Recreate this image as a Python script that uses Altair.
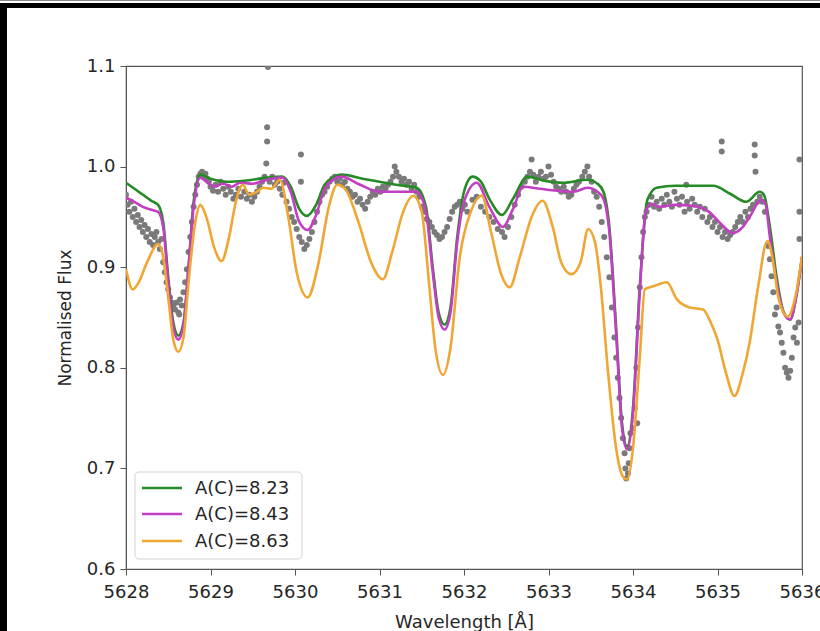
import altair as alt
import pandas as pd

# ---------------- data ----------------
series_names = ["A(C)=8.23", "A(C)=8.43", "A(C)=8.63"]
series_colors = ["#268a26", "#c23ec2", "#f0a633"]

green_w = [5628.00, 5628.10, 5628.20, 5628.30, 5628.38, 5628.44, 5628.50, 5628.56, 5628.62, 5628.68,
           5628.74, 5628.80, 5628.88, 5629.00, 5629.20, 5629.40, 5629.67, 5629.85, 5629.95, 5630.05,
           5630.14, 5630.25, 5630.35, 5630.45, 5630.55, 5630.80, 5631.00, 5631.20, 5631.44, 5631.55,
           5631.63, 5631.70, 5631.77, 5631.84, 5631.92, 5632.00, 5632.10, 5632.20, 5632.30, 5632.45,
           5632.58, 5632.75, 5632.95, 5633.17, 5633.46, 5633.58, 5633.65, 5633.72, 5633.80, 5633.87,
           5633.93, 5634.00, 5634.08, 5634.17, 5634.28, 5634.50, 5634.75, 5634.95, 5635.15, 5635.34,
           5635.50, 5635.55, 5635.62, 5635.70, 5635.78, 5635.86, 5635.93, 5636.00]
green_f = [0.984, 0.978, 0.972, 0.966, 0.962, 0.945, 0.890, 0.845, 0.832, 0.845,
           0.900, 0.965, 0.992, 0.988, 0.985, 0.986, 0.989, 0.990, 0.980, 0.958,
           0.951, 0.962, 0.982, 0.989, 0.992, 0.988, 0.985, 0.982, 0.979, 0.960,
           0.900, 0.855, 0.843, 0.860, 0.930, 0.975, 0.990, 0.985, 0.968, 0.952,
           0.968, 0.990, 0.986, 0.984, 0.987, 0.983, 0.975, 0.940, 0.840, 0.745,
           0.722, 0.760, 0.880, 0.967, 0.979, 0.981, 0.981, 0.981, 0.973, 0.965,
           0.975, 0.972, 0.940, 0.890, 0.856, 0.848, 0.870, 0.910]

magenta_w = [5628.00, 5628.10, 5628.20, 5628.30, 5628.38, 5628.44, 5628.50, 5628.56, 5628.62, 5628.68,
             5628.74, 5628.80, 5628.88, 5628.95, 5629.05, 5629.15, 5629.25, 5629.35, 5629.50, 5629.67,
             5629.85, 5629.95, 5630.05, 5630.15, 5630.25, 5630.35, 5630.45, 5630.55, 5630.77, 5631.00,
             5631.20, 5631.44, 5631.55, 5631.63, 5631.70, 5631.77, 5631.84, 5631.92, 5632.00, 5632.15,
             5632.30, 5632.46, 5632.58, 5632.70, 5632.90, 5633.10, 5633.30, 5633.46, 5633.58, 5633.65,
             5633.72, 5633.80, 5633.87, 5633.93, 5634.00, 5634.08, 5634.15, 5634.22, 5634.32, 5634.50,
             5634.70, 5634.90, 5635.03, 5635.18, 5635.30, 5635.38, 5635.52, 5635.57, 5635.62, 5635.70,
             5635.78, 5635.86, 5635.93, 5636.00]
magenta_f = [0.969, 0.965, 0.960, 0.957, 0.955, 0.940, 0.885, 0.840, 0.828, 0.842,
             0.900, 0.960, 0.989, 0.985, 0.980, 0.983, 0.980, 0.984, 0.983, 0.987,
             0.989, 0.975, 0.945, 0.937, 0.952, 0.978, 0.987, 0.990, 0.982, 0.975,
             0.975, 0.975, 0.955, 0.895, 0.850, 0.838, 0.855, 0.925, 0.965, 0.984,
             0.960, 0.940, 0.958, 0.980, 0.978, 0.976, 0.975, 0.979, 0.975, 0.968,
             0.935, 0.835, 0.740, 0.719, 0.755, 0.875, 0.955, 0.963, 0.960, 0.962,
             0.961, 0.955, 0.944, 0.934, 0.940, 0.950, 0.967, 0.962, 0.930, 0.885,
             0.855, 0.848, 0.870, 0.910]

orange_w = [5628.00, 5628.08, 5628.15, 5628.25, 5628.38, 5628.44, 5628.50, 5628.56, 5628.62, 5628.68,
            5628.74, 5628.82, 5628.88, 5628.95, 5629.05, 5629.13, 5629.22, 5629.30, 5629.38, 5629.46,
            5629.55, 5629.62, 5629.72, 5629.82, 5629.92, 5630.02, 5630.15, 5630.28, 5630.40, 5630.50,
            5630.60, 5630.75, 5630.90, 5631.04, 5631.15, 5631.28, 5631.40, 5631.50, 5631.58, 5631.66,
            5631.75, 5631.84, 5631.95, 5632.08, 5632.21, 5632.32, 5632.44, 5632.54, 5632.66, 5632.80,
            5632.93, 5633.05, 5633.15, 5633.27, 5633.38, 5633.47, 5633.55, 5633.62, 5633.70, 5633.80,
            5633.88, 5633.93, 5634.00, 5634.08, 5634.14, 5634.24, 5634.40, 5634.52, 5634.67, 5634.83,
            5634.92, 5635.00, 5635.10, 5635.20, 5635.30, 5635.38, 5635.48, 5635.59, 5635.65, 5635.72,
            5635.83, 5635.92, 5636.00]
orange_f = [0.898, 0.878, 0.885, 0.905, 0.923, 0.910, 0.870, 0.828, 0.816, 0.830,
            0.885, 0.945, 0.962, 0.950, 0.918, 0.906, 0.930, 0.965, 0.982, 0.972,
            0.975, 0.979, 0.978, 0.987, 0.950, 0.895, 0.870, 0.905, 0.960, 0.982,
            0.977, 0.945, 0.905, 0.888, 0.915, 0.955, 0.971, 0.955, 0.890, 0.820,
            0.793, 0.820, 0.910, 0.955, 0.971, 0.935, 0.893, 0.880, 0.910, 0.950,
            0.966, 0.940, 0.905, 0.893, 0.905, 0.938, 0.925, 0.880, 0.800, 0.720,
            0.692, 0.689, 0.720, 0.810, 0.878, 0.881, 0.885, 0.868, 0.860, 0.858,
            0.845, 0.828, 0.795, 0.772, 0.795, 0.825, 0.880, 0.926, 0.910, 0.870,
            0.851, 0.870, 0.911]

obs_w = [5628.00, 5628.02, 5628.04, 5628.06, 5628.08, 5628.10, 5628.12, 5628.14, 5628.16, 5628.18,
         5628.20, 5628.22, 5628.24, 5628.26, 5628.28, 5628.30, 5628.32, 5628.34, 5628.36, 5628.38,
         5628.40, 5628.42, 5628.44, 5628.46, 5628.48, 5628.50, 5628.52, 5628.54, 5628.56, 5628.58,
         5628.60, 5628.62, 5628.63, 5628.64, 5628.66, 5628.68, 5628.70, 5628.72, 5628.74, 5628.76,
         5628.78, 5628.80, 5628.82, 5628.84, 5628.86, 5628.88, 5628.90, 5628.92, 5628.94, 5628.96,
         5628.98, 5629.00, 5629.03, 5629.06, 5629.09, 5629.12, 5629.15, 5629.18, 5629.21, 5629.24,
         5629.27, 5629.30, 5629.33, 5629.36, 5629.40, 5629.43, 5629.46, 5629.49, 5629.52, 5629.55,
         5629.58, 5629.61, 5629.64, 5629.66, 5629.67, 5629.67, 5629.68, 5629.70, 5629.73, 5629.76,
         5629.79, 5629.82, 5629.85, 5629.87, 5629.90, 5629.93, 5629.96, 5629.99, 5630.02, 5630.05,
         5630.07, 5630.07, 5630.08, 5630.11, 5630.14, 5630.17, 5630.20, 5630.23, 5630.26, 5630.29,
         5630.32, 5630.35, 5630.38, 5630.41, 5630.44, 5630.47, 5630.50, 5630.53, 5630.56, 5630.59,
         5630.62, 5630.65, 5630.68, 5630.71, 5630.74, 5630.77, 5630.80, 5630.83, 5630.86, 5630.89,
         5630.92, 5630.95, 5630.98, 5631.01, 5631.04, 5631.07, 5631.10, 5631.13, 5631.16, 5631.18,
         5631.20, 5631.23, 5631.26, 5631.29, 5631.32, 5631.35, 5631.38, 5631.41, 5631.44, 5631.47,
         5631.50, 5631.53, 5631.56, 5631.59, 5631.62, 5631.65, 5631.68, 5631.71, 5631.74, 5631.77,
         5631.80, 5631.83, 5631.86, 5631.89, 5631.92, 5631.95, 5631.98, 5632.01, 5632.04, 5632.10,
         5632.15, 5632.20, 5632.25, 5632.30, 5632.35, 5632.40, 5632.45, 5632.48, 5632.52, 5632.56,
         5632.60, 5632.64, 5632.68, 5632.72, 5632.75, 5632.78, 5632.80, 5632.82, 5632.85, 5632.88,
         5632.91, 5632.94, 5632.97, 5633.00, 5633.03, 5633.06, 5633.09, 5633.12, 5633.15, 5633.18,
         5633.21, 5633.24, 5633.27, 5633.30, 5633.33, 5633.36, 5633.40, 5633.43, 5633.46, 5633.48,
         5633.51, 5633.54, 5633.57, 5633.60, 5633.63, 5633.66, 5633.69, 5633.72, 5633.75, 5633.78,
         5633.80, 5633.82, 5633.84, 5633.86, 5633.88, 5633.90, 5633.91, 5633.92, 5633.94, 5633.95,
         5633.96, 5633.97, 5634.00, 5634.02, 5634.04, 5634.05, 5634.06, 5634.08, 5634.10, 5634.12,
         5634.14, 5634.16, 5634.19, 5634.22, 5634.25, 5634.28, 5634.31, 5634.34, 5634.37, 5634.40,
         5634.43, 5634.46, 5634.49, 5634.52, 5634.55, 5634.58, 5634.61, 5634.63, 5634.64, 5634.67,
         5634.70, 5634.73, 5634.76, 5634.79, 5634.82, 5634.85, 5634.88, 5634.91, 5634.94, 5634.97,
         5635.00, 5635.03, 5635.05, 5635.05, 5635.06, 5635.09, 5635.12, 5635.15, 5635.18, 5635.21,
         5635.24, 5635.27, 5635.30, 5635.33, 5635.36, 5635.39, 5635.42, 5635.44, 5635.44, 5635.45,
         5635.47, 5635.50, 5635.53, 5635.56, 5635.60, 5635.62, 5635.64, 5635.66, 5635.68, 5635.70,
         5635.72, 5635.74, 5635.76, 5635.78, 5635.80, 5635.82, 5635.84, 5635.86, 5635.88, 5635.90,
         5635.92, 5635.94, 5635.96, 5635.97, 5635.97, 5635.97]
obs_f = [0.972, 0.962, 0.955, 0.965, 0.950, 0.958, 0.945, 0.952, 0.940, 0.947,
         0.935, 0.942, 0.930, 0.938, 0.925, 0.933, 0.922, 0.930, 0.935, 0.925,
         0.918, 0.928, 0.905, 0.895, 0.885, 0.878, 0.870, 0.865, 0.862, 0.858,
         0.865, 0.855, 0.853, 0.868, 0.862, 0.875, 0.885, 0.898, 0.915, 0.930,
         0.945, 0.960, 0.972, 0.982, 0.990, 0.993, 0.995, 0.990, 0.993, 0.988,
         0.985, 0.980, 0.976, 0.982, 0.975, 0.985, 0.978, 0.972, 0.980, 0.975,
         0.968, 0.972, 0.978, 0.970, 0.975, 0.968, 0.972, 0.965, 0.970, 0.975,
         0.980, 0.985, 0.990, 1.003, 1.025, 1.039, 1.099, 0.985, 0.990, 0.982,
         0.985, 0.978, 0.972, 0.984, 0.965, 0.958, 0.950, 0.945, 0.938, 0.930,
         1.012, 0.985, 0.925, 0.918, 0.922, 0.928, 0.935, 0.945, 0.955, 0.965,
         0.972, 0.975, 0.980, 0.985, 0.988, 0.990, 0.985, 0.988, 0.982, 0.985,
         0.978, 0.975, 0.970, 0.972, 0.965, 0.968, 0.962, 0.958, 0.965, 0.970,
         0.975, 0.972, 0.978, 0.975, 0.980, 0.978, 0.982, 0.985, 0.990, 1.000,
         0.995, 0.990, 0.985, 0.988, 0.982, 0.985, 0.978, 0.982, 0.975, 0.970,
         0.960, 0.955, 0.948, 0.945, 0.940, 0.935, 0.932, 0.928, 0.930, 0.935,
         0.940, 0.948, 0.955, 0.960, 0.962, 0.965, 0.958, 0.962, 0.955, 0.967,
         0.970, 0.960, 0.955, 0.950, 0.945, 0.938, 0.935, 0.930, 0.940, 0.950,
         0.962, 0.972, 0.980, 0.985, 0.990, 0.995, 1.007, 0.992, 0.985, 0.990,
         0.995, 0.988, 0.990, 1.000, 0.992, 0.985, 0.980, 0.978, 0.975, 0.980,
         0.975, 0.970, 0.972, 0.978, 0.982, 0.985, 0.990, 0.995, 1.000, 0.990,
         0.985, 0.975, 0.970, 0.960, 0.945, 0.930, 0.910, 0.890, 0.860, 0.830,
         0.810, 0.790, 0.770, 0.750, 0.730, 0.715, 0.700, 0.690, 0.695, 0.705,
         0.720, 0.735, 0.740, 0.760, 0.800, 0.745, 0.840, 0.880, 0.910, 0.935,
         0.950, 0.955, 0.962, 0.970, 0.960, 0.965, 0.958, 0.968, 0.962, 0.972,
         0.965, 0.960, 0.975, 0.968, 0.962, 0.970, 0.955, 0.982, 0.965, 0.958,
         0.968, 0.962, 0.955, 0.960, 0.950, 0.958, 0.945, 0.950, 0.940, 0.945,
         0.935, 0.940, 1.025, 1.015, 0.930, 0.935, 0.928, 0.932, 0.935, 0.940,
         0.945, 0.950, 0.945, 0.955, 0.950, 0.958, 0.962, 1.022, 1.011, 0.995,
         0.965, 0.970, 0.965, 0.955, 0.921, 0.908, 0.891, 0.875, 0.853, 0.860,
         0.841, 0.835, 0.825, 0.815, 0.800, 0.795, 0.790, 0.797, 0.810, 0.830,
         0.840, 0.825, 0.845, 0.928, 0.955, 1.007]

x_ticks = [5628, 5629, 5630, 5631, 5632, 5633, 5634, 5635, 5636]
y_ticks = [0.6, 0.7, 0.8, 0.9, 1.0, 1.1]

# ---------------- build tables ----------------
models = pd.concat([
    pd.DataFrame({"w": green_w, "f": green_f, "model": series_names[0], "order": range(len(green_w))}),
    pd.DataFrame({"w": magenta_w, "f": magenta_f, "model": series_names[1], "order": range(len(magenta_w))}),
    pd.DataFrame({"w": orange_w, "f": orange_f, "model": series_names[2], "order": range(len(orange_w))}),
])
obs = pd.DataFrame({"w": obs_w, "f": obs_f})

FONT = "DejaVu Sans"
TXT = "#262626"
W, H = 676, 503

xscale = alt.Scale(domain=[5628, 5636], nice=False, zero=False)
yscale = alt.Scale(domain=[0.6, 1.1], nice=False, zero=False)

xaxis = alt.Axis(values=x_ticks, format="d", title="Wavelength [Å]", grid=False,
                 labelFontSize=18, titleFontSize=18, labelFont=FONT, titleFont=FONT,
                 labelColor=TXT, titleColor=TXT, titleFontWeight="normal",
                 tickSize=6, tickColor="#555", domainColor="#555", labelPadding=8,
                 titlePadding=12, labelFlush=False)
yaxis = alt.Axis(values=y_ticks, format=".1f", title="Normalised Flux", grid=False,
                 labelFontSize=18, titleFontSize=17, labelFont=FONT, titleFont=FONT,
                 labelColor=TXT, titleColor=TXT, titleFontWeight="normal",
                 tickSize=6, tickColor="#555", domainColor="#555", labelPadding=5,
                 titlePadding=12, labelFlush=False)

points = alt.Chart(obs).mark_circle(size=36, color="#7a7a7a", opacity=1, clip=True).encode(
    x=alt.X("w:Q", scale=xscale, axis=xaxis),
    y=alt.Y("f:Q", scale=yscale, axis=yaxis),
)

lines = alt.Chart(models).mark_line(strokeWidth=2.6, interpolate="monotone", clip=True).encode(
    x=alt.X("w:Q", scale=xscale),
    y=alt.Y("f:Q", scale=yscale),
    color=alt.Color("model:N", scale=alt.Scale(domain=series_names, range=series_colors), legend=None),
    order="order:Q",
    detail="model:N",
)

# ---------------- legend (drawn by hand, matplotlib-style box) ----------------
leg_box = alt.Chart(pd.DataFrame({"a": [0]})).mark_rect(
    fill="white", stroke="#cfcfcf", strokeWidth=1, cornerRadius=4, opacity=0.9
).encode(x=alt.value(9), x2=alt.value(176), y=alt.value(406), y2=alt.value(493))

legend_layers = [leg_box]
row_y = [422, 448, 475]
for name, col, yy in zip(series_names, series_colors, row_y):
    legend_layers.append(
        alt.Chart(pd.DataFrame({"a": [0]})).mark_rule(color=col, strokeWidth=2.6).encode(
            x=alt.value(16), x2=alt.value(56), y=alt.value(yy)))
    legend_layers.append(
        alt.Chart(pd.DataFrame({"t": [name]})).mark_text(
            align="left", baseline="middle", font=FONT, fontSize=18, color=TXT
        ).encode(x=alt.value(69), y=alt.value(yy + 1), text="t:N"))

# ---------------- screenshot frame (black bars at the edges) ----------------
frame = [
    alt.Chart(pd.DataFrame({"a": [0]})).mark_rect(color="black").encode(
        x=alt.value(-126), x2=alt.value(-119), y=alt.value(-63), y2=alt.value(565)),
    alt.Chart(pd.DataFrame({"a": [0]})).mark_rect(color="black").encode(
        x=alt.value(-126), x2=alt.value(694), y=alt.value(-63), y2=alt.value(-58)),
    alt.Chart(pd.DataFrame({"a": [0]})).mark_rect(color="#8a8a8a").encode(
        x=alt.value(-126), x2=alt.value(694), y=alt.value(-66), y2=alt.value(-65)),
]

chart = alt.layer(points, lines, *legend_layers, *frame).properties(
    width=W, height=H,
    autosize=alt.AutoSizeParams(type="none"),
    padding={"left": 126, "top": 66, "right": 18, "bottom": 62},
    background="white",
).configure_view(stroke="#555", strokeWidth=1.2)

chart.save("out.html", embed_options={"renderer": "svg", "actions": False})
